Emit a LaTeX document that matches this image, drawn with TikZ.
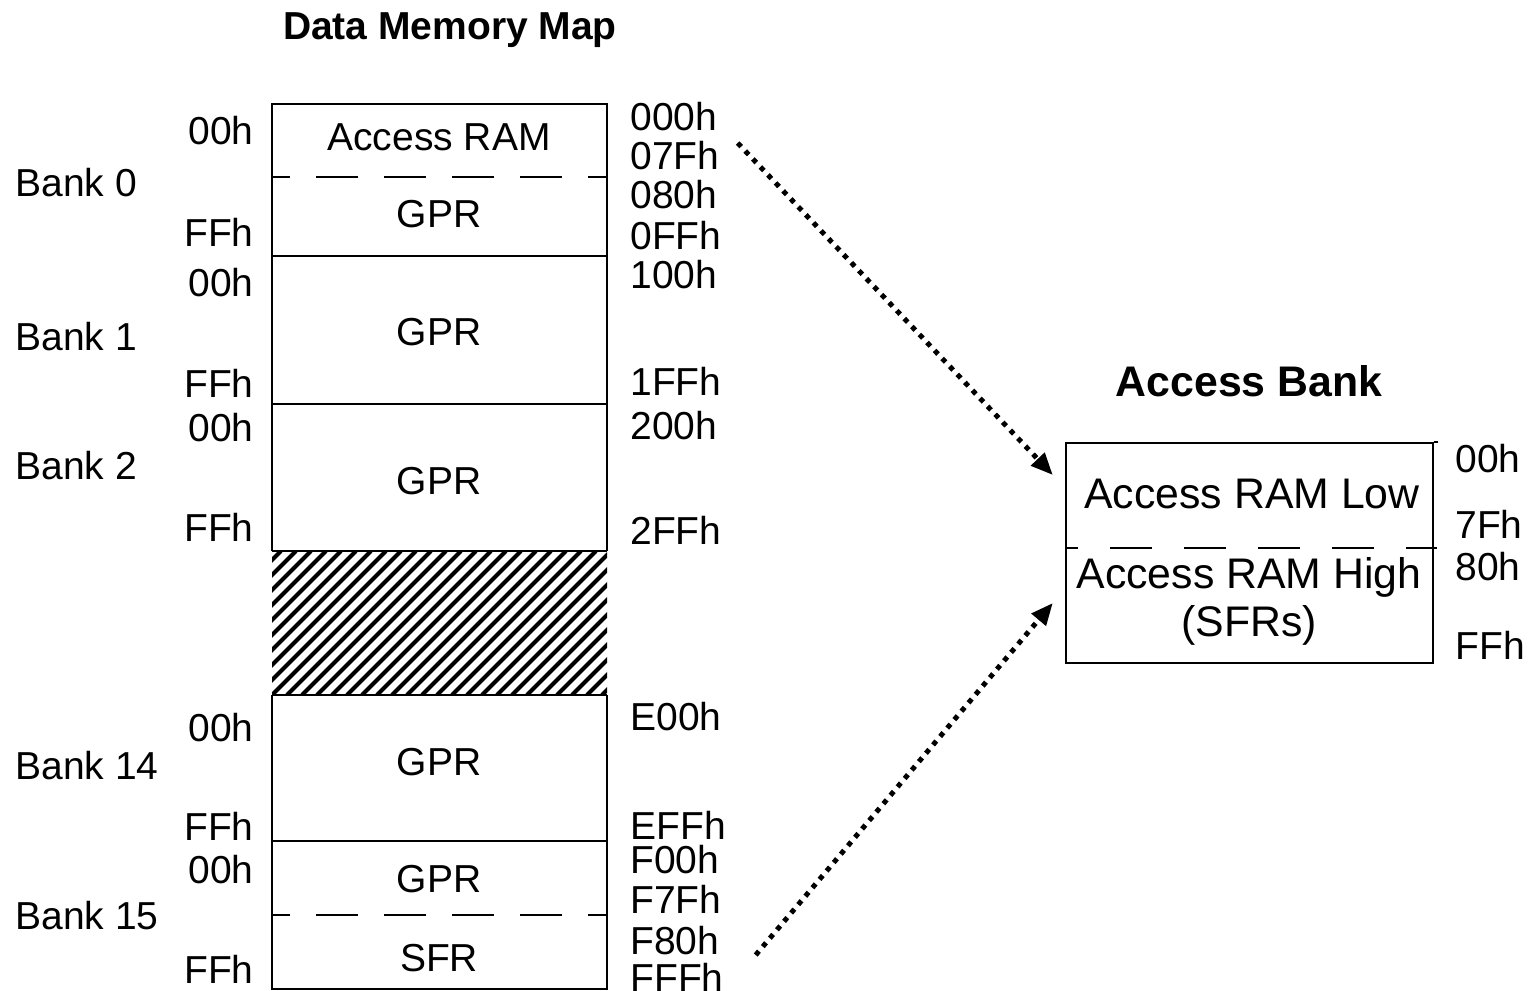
\documentclass[tikz,border=0pt]{standalone}
\usepackage{fontspec}
\setmainfont{Liberation Sans}
\usetikzlibrary{arrows.meta,calc}

\begin{document}
\begin{tikzpicture}[x=0.5pt,y=-0.5pt,>={Triangle[length=11pt,width=9pt]},
  lbl/.style={inner sep=0pt,text height=14pt,text depth=0pt,font=\fontsize{19.5}{22}\selectfont},
  title/.style={lbl,font=\fontsize{19.5}{22}\selectfont\bfseries},
  big/.style={inner sep=0pt,text height=15.3pt,text depth=0pt,font=\fontsize{21.4}{24}\selectfont},
  border/.style={line width=1.2pt},
  split/.style={line width=1pt,dash pattern=on 21pt off 13pt,dash phase=12pt},
  link/.style={->,line width=2.5pt,dash pattern=on 2.5pt off 3pt}]

\useasboundingbox (0,0) rectangle (1533,991);

\node[title](T1) at (450,25) {Data Memory Map};
\node[big,font=\fontsize{21.4}{24}\selectfont\bfseries](T2) at (1249,381) {Access Bank};

% data memory map
\begin{scope}
\clip (272,551) rectangle (607,695);
\foreach \i in {-150,-135,...,345}
  \draw[line width=2.1pt] (272+\i,695) -- ++(144,-144);
\end{scope}
\draw[border] (272,551) -- (272,104) -- (607,104) -- (607,551);
\draw[border] (272,256) -- (607,256);
\draw[border] (272,404) -- (607,404);
\draw[border] (272,551) -- (607,551);
\draw[border] (272,695) -- (607,695);
\draw[border] (272,841) -- (607,841);
\draw[border] (272,695) -- (272,989) -- (607,989) -- (607,695);
\draw[split] (272,177) -- (607,177);
\draw[split] (272,915) -- (607,915);

\node[lbl](M1) at (439,136) {Access RAM};
\node[lbl](M2) at (439,213) {GPR};
\node[lbl](M3) at (439,331) {GPR};
\node[lbl](M4) at (439,480) {GPR};
\node[lbl](M5) at (439,761) {GPR};
\node[lbl](M6) at (439,878) {GPR};
\node[lbl](M7) at (439,957) {SFR};

\node[lbl,anchor=west](B0) at (15,182) {Bank 0};
\node[lbl,anchor=west](B1) at (15,336) {Bank 1};
\node[lbl,anchor=west](B2) at (15,465) {Bank 2};
\node[lbl,anchor=west](B14) at (15,765) {Bank 14};
\node[lbl,anchor=west](B15) at (15,915) {Bank 15};

\foreach \y/\t [count=\n] in {130/00h,232/FFh,282/00h,383/FFh,427/00h,527/FFh,727/00h,826/FFh,869/00h,969/FFh}
  \node[lbl,anchor=east](L\n) at (254,\y) {\t};

\foreach \y/\t [count=\n] in {116/000h,155/07Fh,194/080h,235/0FFh,274/100h,381/1FFh,425/200h,530/2FFh,716/E00h,825/EFFh,859/F00h,899/F7Fh,940/F80h,977/FFFh}
  \node[lbl,anchor=west](R\n) at (630,\y) {\t};

% access bank
\node[draw,border,inner sep=0pt,minimum width=183.5pt,minimum height=110pt](AB) at (1249.5,553) {};
\draw[border] (AB.north east) -- ++(4,0);
\draw[line width=1pt,dash pattern=on 21pt off 16pt,dash phase=15pt] (1066,548) -- (1437,548);
\node[big](A1) at (1252,493) {Access RAM Low};
\node[big](A2) at (1249,573) {Access RAM High};
\node[big](A3) at (1249,621) {(SFRs)};
\node[lbl,anchor=west](K1) at (1455,458) {00h};
\node[lbl,anchor=west](K2) at (1455,524) {7Fh};
\node[lbl,anchor=west](K3) at (1455,566) {80h};
\node[lbl,anchor=west](K4) at (1455,645) {FFh};

\coordinate (S1) at ($(R2.east)+(18,-12)$);
\coordinate (S2) at ($(R13.east)+(36,15)$);
\coordinate (E1) at ($(AB.west)+(-12,-78)$);
\coordinate (E2) at ($(AB.west)+(-12,50)$);

\path
(S1) edge[link] (E1)
(S2) edge[link] (E2);

\end{tikzpicture}
\end{document}
